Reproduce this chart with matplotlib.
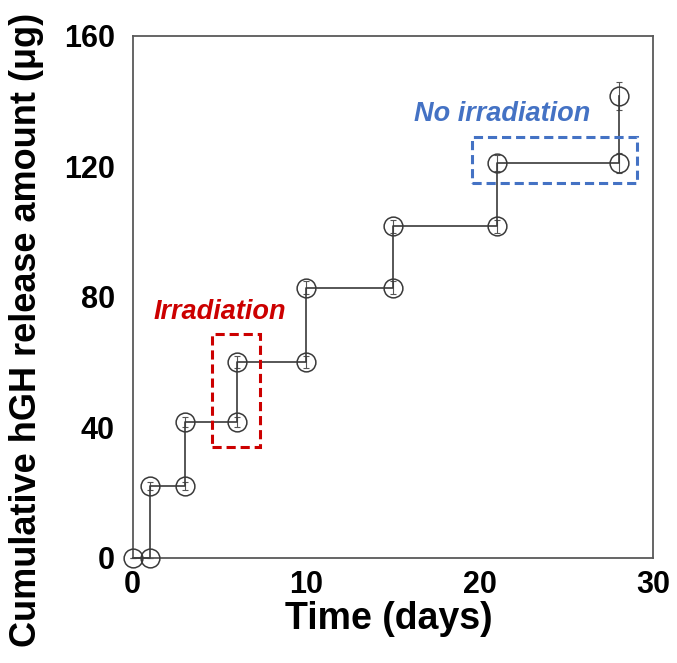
import matplotlib
matplotlib.use("Agg")
import matplotlib.pyplot as plt
from matplotlib.patches import Rectangle

plt.rcParams['font.family'] = ['Liberation Sans', 'DejaVu Sans']

days = [0, 1, 1, 3, 3, 6, 6, 10, 10, 15, 15, 21, 21, 28, 28]
release = [0, 0, 22, 22, 41.6, 41.6, 60, 60, 82.8, 82.8, 101.6, 101.6, 121, 121, 141.5]
errors = [0, 0, 1.3, 1.3, 1.5, 1.5, 1.8, 1.8, 2.0, 2.0, 2.0, 2.0, 2.5, 3.0, 4.4]

x_ticks = [0, 10, 20, 30]
y_ticks = [0, 40, 80, 120, 160]

fig = plt.figure(figsize=(6.77, 6.63), dpi=100)
ax = fig.add_axes([0.196, 0.159, 0.769, 0.787])

line_color = '#3a3a3a'
ax.errorbar(days, release, yerr=errors, fmt='none', ecolor='#555555',
            elinewidth=0.8, capsize=2, capthick=0.8, zorder=2, clip_on=False)
ax.plot(days, release, color=line_color, lw=1.2, marker='o', markersize=13.5,
        markerfacecolor='none', markeredgecolor=line_color, markeredgewidth=1.1,
        zorder=3, clip_on=False)

ax.set_xlim(0, 30)
ax.set_ylim(0, 160)
ax.set_xticks(x_ticks)
ax.set_yticks(y_ticks)
ax.tick_params(length=0, labelsize=22)
ax.tick_params(axis='y', pad=13)
ax.tick_params(axis='x', pad=9)
for lab in ax.get_xticklabels() + ax.get_yticklabels():
    lab.set_fontweight('bold')

for sp in ax.spines.values():
    sp.set_color('#595959')
    sp.set_linewidth(1.3)

fig.text(0.575, 0.066, 'Time (days)', fontsize=27, fontweight='bold',
         ha='center', va='center')
fig.text(0.039, 0.503, 'Cumulative hGH release amount (μg)', fontsize=26,
         fontweight='bold', rotation=90, ha='center', va='center')

red = '#CC0000'
blue = '#4472C4'
ax.add_patch(Rectangle((4.59, 34.0), 2.75, 34.5, fill=False, edgecolor=red,
                       lw=2.2, ls=(0, (3, 1.6)), zorder=4))
ax.add_patch(Rectangle((19.54, 114.8), 9.51, 14.2, fill=False, edgecolor=blue,
                       lw=2.2, ls=(0, (3, 1.6)), zorder=4))

ax.text(5.0, 75.4, 'Irradiation', color=red, fontsize=19.5, fontweight='bold',
        fontstyle='italic', ha='center', va='center')
ax.text(21.3, 136.0, 'No irradiation', color=blue, fontsize=19.5,
        fontweight='bold', fontstyle='italic', ha='center', va='center')

fig.savefig('out.png', dpi=100)
